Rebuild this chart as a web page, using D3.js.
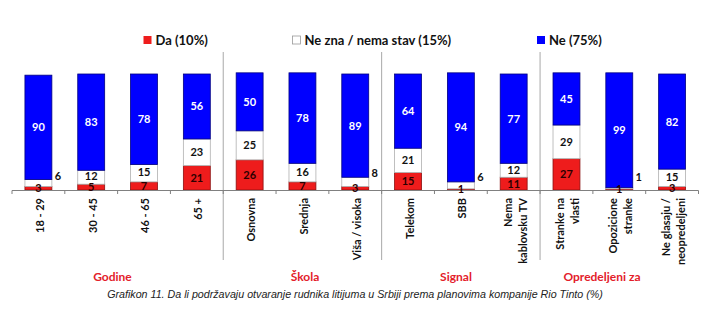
<!DOCTYPE html>
<html><head><meta charset="utf-8">
<script src="https://cdn.jsdelivr.net/npm/d3@7"></script>
<style>body{margin:0;background:#fff}svg{display:block}</style>
</head><body>
<script>
const categories = [
  ["18 - 29"], ["30 - 45"], ["46 - 65"], ["65 +"],
  ["Osnovna"], ["Srednja"], ["Viša / visoka"],
  ["Telekom"], ["SBB"], ["Nema", "kablovsku TV"],
  ["Stranke na", "vlasti"], ["Opozicione", "stranke"], ["Ne glasaju /", "neopredeljeni"]
];
const da    = [3, 5, 7, 21, 26, 7, 3, 15, 1, 11, 27, 1, 3];
const neZna = [6, 12, 15, 23, 25, 16, 8, 21, 6, 12, 29, 1, 15];
const ne    = [90, 83, 78, 56, 50, 78, 89, 64, 94, 77, 45, 99, 82];
const seriesNames = ["Da (10%)", "Ne zna / nema stav (15%)", "Ne (75%)"];
const groups = ["Godine", "Škola", "Signal", "Opredeljeni za"];
const groupSizes = [4, 3, 3, 3];
const caption = "Grafikon 11. Da li podržavaju otvaranje rudnika litijuma u Srbiji prema planovima kompanije Rio Tinto (%)";

const W = 710, H = 328;
const svg = d3.select("body").append("svg").attr("width", W).attr("height", H);
const font = "Lato, 'Open Sans', sans-serif";

const x = d3.scaleBand().domain(d3.range(categories.length)).range([12, 698.5]).paddingInner(0.49).paddingOuter(0.245);
const y = d3.scaleLinear().domain([0, 100]).range([190, 74]);
const step = x.step();

const fills = ["#ee1c1c", "#ffffff", "#0000ff"];
const strokes = ["#8a1010", "#b0b0b0", "#000080"];
const textCols = ["#2a0000", "#111", "#fff"];

const data = categories.map((c, i) => [da[i], neZna[i], ne[i]]);

// separators
let acc = 0;
const bounds = [];
groupSizes.forEach((g) => { bounds.push(acc); acc += g; });
bounds.push(acc);
bounds.slice(1, -1).forEach(b => {
  svg.append("line").attr("x1", 12 + b * step).attr("x2", 12 + b * step)
    .attr("y1", 52).attr("y2", 260).attr("stroke", "#a8a8a8").attr("stroke-width", 1);
});

// bars
data.forEach((vals, i) => {
  let base = 0;
  vals.forEach((v, s) => {
    const y0 = y(base), y1 = y(base + v);
    svg.append("rect").attr("x", x(i)).attr("width", x.bandwidth())
      .attr("y", y1).attr("height", Math.max(0, y0 - y1))
      .attr("fill", fills[s]).attr("stroke", strokes[s]).attr("stroke-width", 0.8);
    base += v;
  });
});

// axis
const axisG = svg.append("g");
axisG.append("line").attr("x1", 12).attr("x2", 12 + categories.length * step)
  .attr("y1", 190.5).attr("y2", 190.5).attr("stroke", "#808080");
d3.range(categories.length + 1).forEach(k => {
  axisG.append("line").attr("x1", 12 + k * step).attr("x2", 12 + k * step)
    .attr("y1", 190.5).attr("y2", 194).attr("stroke", "#808080");
});

// value labels
data.forEach((vals, i) => {
  let base = 0;
  const cx = x(i) + x.bandwidth() / 2;
  vals.forEach((v, s) => {
    const y0 = y(base), y1 = y(base + v);
    let tx = cx, ty = (y0 + y1) / 2, col = textCols[s];
    if (s === 1 && v < 10) {
      tx = x(i) + x.bandwidth() + 6;
      ty = Math.min(y1 - 4, 177);
      col = "#111";
    } else if (s === 1 && vals[0] < 10) {
      ty -= 1;
    }
    svg.append("text").attr("x", tx).attr("y", ty).attr("dy", "0.36em")
      .attr("text-anchor", "middle").attr("font-family", font).attr("font-weight", "bold")
      .attr("font-size", 11).attr("fill", col).text(v);
    base += v;
  });
});

// category labels
categories.forEach((lines, i) => {
  const cx = x(i) + x.bandwidth() / 2 + 1.5;
  const n = lines.length;
  const t = svg.append("text").attr("transform", `translate(${cx},198) rotate(-90)`)
    .attr("text-anchor", "end").attr("font-family", font).attr("font-weight", "bold")
    .attr("font-size", 11).attr("fill", "#111");
  lines.forEach((l, j) => {
    t.append("tspan").attr("x", 0).attr("y", (j - (n - 1) / 2) * 15).attr("dy", "0.36em").text(l);
  });
});

// group labels
const groupX = [112.5, 305, 456, 602];
groups.forEach((g, k) => {
  svg.append("text").attr("x", groupX[k]).attr("y", 277).attr("dy", "0.36em")
    .attr("text-anchor", "middle").attr("font-family", font).attr("font-weight", "bold")
    .attr("font-size", 12).attr("fill", "#e3202a").text(g);
});

// legend
const legX = [143.5, 292.5, 537];
seriesNames.forEach((nm, s) => {
  svg.append("rect").attr("x", legX[s]).attr("y", 36).attr("width", 8).attr("height", 8)
    .attr("fill", fills[s]).attr("stroke", s === 1 ? "#999" : "none").attr("stroke-width", 0.8);
  svg.append("text").attr("x", legX[s] + 12).attr("y", 40).attr("dy", "0.36em")
    .attr("font-family", font).attr("font-weight", "bold").attr("font-size", 13)
    .attr("fill", "#111").text(nm);
});

// caption
svg.append("text").attr("x", 355).attr("y", 294).attr("dy", "0.36em").attr("text-anchor", "middle")
  .attr("font-family", "'Liberation Sans', Arial, sans-serif").attr("font-style", "italic")
  .attr("font-size", 10.7).attr("fill", "#222").text(caption);
</script>
</body></html>
